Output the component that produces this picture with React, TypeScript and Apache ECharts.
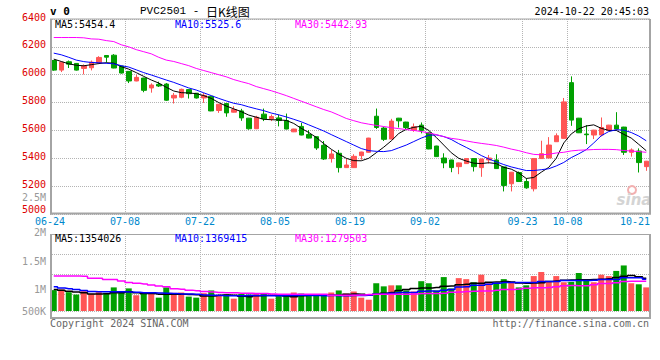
import React, { useEffect, useRef } from 'react';
import * as echarts from 'echarts';

// ---------- data ----------
const dates = [
  '06-24', '06-25', '06-26', '06-27', '06-28',
  '07-01', '07-02', '07-03', '07-04', '07-05', '07-08', '07-09', '07-10', '07-11', '07-12',
  '07-15', '07-16', '07-17', '07-18', '07-19', '07-22', '07-23', '07-24', '07-25', '07-26',
  '07-29', '07-30', '07-31',
  '08-01', '08-02', '08-05', '08-06', '08-07', '08-08', '08-09', '08-12', '08-13', '08-14',
  '08-15', '08-16', '08-19', '08-20', '08-21', '08-22', '08-23', '08-26', '08-27', '08-28',
  '08-29', '08-30',
  '09-02', '09-03', '09-04', '09-05', '09-06', '09-09', '09-10', '09-11', '09-12', '09-13',
  '09-18', '09-19', '09-20', '09-23', '09-24', '09-25', '09-26', '09-27', '09-30',
  '10-08', '10-09', '10-10', '10-11', '10-14', '10-15', '10-16', '10-17', '10-18', '10-21', '10-22',
];
const labeledDates = ['06-24', '07-08', '07-22', '08-05', '08-19', '09-02', '09-23', '10-08', '10-21'];
const gridDates = ['07-08', '07-22', '08-05', '08-19', '09-02', '09-23', '10-08'];

// [open, close, low, high]
const candles = [
  [6102, 6033, 6028, 6106], [6033, 6090, 6019, 6092], [6093, 6076, 6048, 6102], [6081, 6033, 6030, 6083],
  [6045, 6062, 6002, 6074], [6050, 6090, 6031, 6102], [6086, 6124, 6076, 6133], [6138, 6126, 6088, 6140],
  [6140, 6048, 6046, 6148], [6062, 6012, 6008, 6064], [6024, 5955, 5940, 6026], [5955, 5981, 5953, 6000],
  [5976, 5888, 5874, 5978], [5905, 5926, 5871, 5938], [5931, 5919, 5912, 5950], [5933, 5817, 5812, 5940],
  [5833, 5852, 5793, 5869], [5838, 5895, 5831, 5900], [5893, 5864, 5829, 5895], [5867, 5833, 5829, 5869],
  [5833, 5852, 5798, 5869], [5845, 5740, 5738, 5847], [5743, 5788, 5726, 5790], [5793, 5726, 5698, 5795],
  [5731, 5750, 5729, 5774], [5740, 5690, 5669, 5755], [5688, 5612, 5605, 5690], [5612, 5695, 5610, 5705],
  [5717, 5683, 5667, 5757], [5683, 5700, 5667, 5714], [5690, 5671, 5629, 5714], [5671, 5610, 5608, 5721],
  [5590, 5610, 5588, 5612], [5629, 5567, 5565, 5655], [5571, 5545, 5543, 5602], [5555, 5474, 5460, 5557],
  [5493, 5395, 5388, 5524], [5398, 5431, 5369, 5460], [5436, 5333, 5298, 5460], [5333, 5352, 5331, 5395],
  [5333, 5414, 5331, 5429], [5419, 5445, 5390, 5447], [5443, 5545, 5441, 5547], [5702, 5621, 5610, 5757],
  [5617, 5536, 5524, 5626], [5538, 5667, 5536, 5683], [5688, 5669, 5621, 5690], [5660, 5621, 5602, 5662],
  [5602, 5626, 5590, 5650], [5638, 5600, 5579, 5657], [5583, 5467, 5465, 5590], [5488, 5412, 5410, 5490],
  [5402, 5367, 5329, 5436], [5388, 5333, 5300, 5390], [5340, 5367, 5286, 5369], [5362, 5398, 5360, 5402],
  [5398, 5340, 5305, 5400], [5333, 5395, 5267, 5397], [5388, 5402, 5362, 5424], [5388, 5326, 5324, 5429],
  [5338, 5205, 5162, 5340], [5217, 5300, 5162, 5302], [5298, 5233, 5231, 5305], [5233, 5188, 5181, 5257],
  [5181, 5398, 5162, 5400], [5398, 5433, 5396, 5526], [5402, 5495, 5400, 5552], [5519, 5562, 5517, 5579],
  [5543, 5805, 5541, 5833], [5943, 5674, 5633, 5988], [5688, 5583, 5581, 5690], [5574, 5569, 5502, 5638],
  [5567, 5602, 5538, 5604], [5567, 5621, 5557, 5693], [5602, 5638, 5600, 5640], [5638, 5610, 5608, 5731],
  [5624, 5443, 5424, 5626], [5443, 5460, 5412, 5471], [5452, 5369, 5298, 5471], [5340, 5379, 5310, 5381],
];

const ma5 = [
  6112, 6095, 6078, 6068, 6064, 6072, 6080, 6086, 6083, 6058,
  6040, 6015, 5988, 5962, 5940, 5910, 5883, 5871, 5869, 5864,
  5850, 5830, 5800, 5775, 5755, 5735, 5710, 5695, 5680, 5677,
  5675, 5672, 5650, 5615, 5585, 5550, 5505, 5465, 5430, 5400,
  5383, 5382, 5400, 5440, 5480, 5525, 5578, 5608, 5622, 5630,
  5600, 5550, 5495, 5440, 5400, 5380, 5365, 5362, 5368, 5362,
  5335, 5322, 5295, 5255, 5262, 5300, 5335, 5400, 5510, 5575,
  5612, 5632, 5640, 5615, 5600, 5600, 5572, 5545, 5500, 5454.4,
];
const ma10 = [
  6155, 6143, 6125, 6105, 6094, 6088, 6086, 6082, 6078, 6065,
  6055, 6035, 6015, 5998, 5980, 5962, 5945, 5925, 5905, 5890,
  5870, 5850, 5830, 5812, 5795, 5785, 5769, 5755, 5742, 5725,
  5712, 5697, 5680, 5662, 5640, 5618, 5596, 5570, 5545, 5520,
  5495, 5470, 5455, 5450, 5448, 5455, 5475, 5495, 5520, 5545,
  5565, 5568, 5556, 5535, 5505, 5478, 5450, 5420, 5395, 5375,
  5355, 5338, 5325, 5312, 5312, 5318, 5325, 5345, 5370, 5405,
  5432, 5462, 5510, 5562, 5592, 5605, 5602, 5585, 5560, 5525.6,
];
const ma30 = [
  6267, 6267, 6267, 6267, 6265, 6257, 6255, 6245, 6238, 6215,
  6200, 6180, 6165, 6150, 6125, 6105, 6095, 6080, 6065, 6045,
  6030, 6015, 6000, 5985, 5965, 5950, 5936, 5915, 5900, 5885,
  5868, 5850, 5830, 5810, 5790, 5770, 5750, 5733, 5710, 5686,
  5670, 5655, 5645, 5636, 5628, 5620, 5613, 5606, 5600, 5592,
  5582, 5570, 5555, 5543, 5536, 5525, 5515, 5507, 5500, 5492,
  5480, 5466, 5455, 5440, 5428, 5425, 5429, 5438, 5443, 5453,
  5458, 5460, 5463, 5464, 5464, 5462, 5456, 5452, 5448, 5442.93,
];

const volume = [
  1105000, 1122000, 1054000, 995000, 1080000, 1012000, 1054000, 1037000, 1173000, 1071000,
  1148000, 978000, 1037000, 1012000, 918000, 1173000, 1037000, 1046000, 944000, 918000,
  1029000, 1097000, 969000, 1003000, 893000, 1012000, 995000, 1029000, 1012000, 893000,
  987000, 987000, 1046000, 1020000, 978000, 978000, 969000, 1046000, 1097000, 1020000,
  1071000, 918000, 867000, 1276000, 1199000, 1224000, 1224000, 1097000, 1071000, 1327000,
  1276000, 1097000, 1429000, 1148000, 1403000, 1378000, 1301000, 1488000, 1276000, 1276000,
  1378000, 1301000, 1173000, 1224000, 1454000, 1556000, 1327000, 1454000, 1301000, 1310000,
  1531000, 1378000, 1301000, 1488000, 1454000, 1582000, 1718000, 1276000, 1250000, 1173000,
];
const volMa5 = [
  1122000, 1100000, 1080000, 1060000, 1037000, 1012000, 1012000, 1015000, 1037000, 1040000,
  1063000, 1040000, 1020000, 1020000, 1003000, 1003000, 1000000, 1000000, 995000, 990000,
  961000, 961000, 975000, 987000, 975000, 952000, 940000, 965000, 969000, 978000,
  978000, 960000, 940000, 965000, 978000, 978000, 976000, 978000, 980000, 1000000,
  1012000, 1000000, 978000, 1003000, 1030000, 1046000, 1097000, 1120000, 1148000, 1156000,
  1158000, 1173000, 1200000, 1207000, 1240000, 1250000, 1276000, 1278000, 1301000, 1310000,
  1318000, 1310000, 1284000, 1276000, 1284000, 1290000, 1318000, 1330000, 1352000, 1354000,
  1361000, 1363000, 1370000, 1378000, 1390000, 1420000, 1450000, 1471000, 1437000, 1403000,
];
const volMa10 = [
  1190000, 1156000, 1140000, 1120000, 1097000, 1071000, 1065000, 1063000, 1062000, 1063000,
  1060000, 1050000, 1040000, 1037000, 1036000, 1030000, 1020000, 1012000, 1011000, 1000000,
  985000, 975000, 972000, 968000, 965000, 968000, 970000, 972000, 970000, 966000,
  968000, 970000, 972000, 975000, 972000, 970000, 968000, 969000, 966000, 968000,
  970000, 969000, 975000, 1003000, 1010000, 1029000, 1046000, 1047000, 1046000, 1080000,
  1081000, 1080000, 1100000, 1122000, 1182000, 1190000, 1224000, 1226000, 1250000, 1276000,
  1293000, 1294000, 1292000, 1293000, 1295000, 1318000, 1319000, 1318000, 1344000, 1345000,
  1344000, 1343000, 1350000, 1369000, 1370000, 1369000, 1412000, 1413000, 1412000, 1378000,
];
const volMa30 = [
  1454000, 1454000, 1454000, 1454000, 1452000, 1403000, 1403000, 1369000, 1369000, 1330000,
  1293000, 1275000, 1260000, 1235000, 1210000, 1190000, 1140000, 1125000, 1105000, 1090000,
  1071000, 1060000, 1046000, 1040000, 1037000, 1030000, 1025000, 1020000, 1019000, 1010000,
  1003000, 1004000, 1003000, 1002000, 1003000, 1004000, 1003000, 978000, 979000, 978000,
  977000, 985000, 995000, 1003000, 1004000, 1003000, 1002000, 1003000, 1010000, 1020000,
  1021000, 1020000, 1030000, 1054000, 1060000, 1070000, 1080000, 1081000, 1085000, 1100000,
  1122000, 1123000, 1130000, 1150000, 1165000, 1166000, 1170000, 1190000, 1216000, 1217000,
  1216000, 1215000, 1240000, 1267000, 1268000, 1290000, 1320000, 1327000, 1326000, 1327000,
];

const priceYTicks = { min: 5000, max: 6400, step: 200 };
// volume scale labels as drawn by the source (uneven spacing, blank slots between)
const volTickLabels = ['500K', '', '', '1M', '', '', '', '1.5M', '', '', '', '2M', '', '', '', '', '2.5M'];
const priceMaLabels = ['MA5:5454.4', 'MA10:5525.6', 'MA30:5442.93'];
const volMaLabels = ['MA5:1354026', 'MA10:1369415', 'MA30:1279503'];
const titleCode = 'PVC2501 - ';
const titleName = '日K线图';
const timeStamp = '2024-10-22 20:45:03';

// ---------- styles ----------
const UP = '#ff5555';
const DOWN = '#00a000';
const MA_COLORS = ['#000000', '#0000ff', '#ff00ff'];
const MONO = '"DejaVu Sans Mono", monospace';
const GRID_LINE = { color: '#b4b4b4', type: 'dotted' as const, width: 1 };
const FRAME = '#a4a4a4';
const PRICE_LABEL = '#dd0000';

function buildOption() {
  const volData = volume.map((v, i) => ({
    value: v,
    itemStyle: { color: candles[i][1] >= candles[i][0] ? UP : DOWN },
  }));

  const text = (t: string, x: number, y: number, fill: string, font: string, align = 'left') => ({
    type: 'text',
    x,
    y,
    style: { text: t, fill, font, textAlign: align, textVerticalAlign: 'middle' },
    z: 20,
  });
  const line = (x1: number, y1: number, x2: number, y2: number, w: number) => ({
    type: 'line',
    shape: { x1, y1, x2, y2 },
    style: { stroke: FRAME, lineWidth: w },
    z: 15,
  });

  const maX = [55, 175, 295];
  const volLabelStep = 7.1;

  return {
    animation: false,
    backgroundColor: '#ffffff',
    grid: [
      { left: 50, right: 10, top: 19, height: 195 },
      { left: 50, right: 10, top: 234, height: 77 },
      {
        left: 50,
        right: 10,
        top: 311 - volLabelStep * (volTickLabels.length - 1),
        height: volLabelStep * (volTickLabels.length - 1),
      },
    ],
    xAxis: [
      {
        type: 'category',
        gridIndex: 0,
        data: dates,
        boundaryGap: true,
        axisLine: { show: false },
        axisTick: { show: false },
        axisLabel: {
          interval: (_i: number, v: string) => labeledDates.includes(v),
          color: '#0088cc',
          fontFamily: MONO,
          fontSize: 10,
          margin: 2,
          padding: [0, 7.5, 0, 0],
        },
        splitLine: {
          show: true,
          interval: (_i: number, v: string) => gridDates.includes(v),
          lineStyle: GRID_LINE,
        },
      },
      {
        type: 'category',
        gridIndex: 1,
        data: dates,
        boundaryGap: true,
        axisLine: { show: false },
        axisTick: { show: false },
        axisLabel: { show: false },
        splitLine: {
          show: true,
          interval: (_i: number, v: string) => gridDates.includes(v),
          lineStyle: GRID_LINE,
        },
      },
      { type: 'value', gridIndex: 2, show: false },
    ],
    yAxis: [
      {
        type: 'value',
        gridIndex: 0,
        min: priceYTicks.min,
        max: priceYTicks.max,
        interval: priceYTicks.step,
        axisLine: { show: false },
        axisTick: { show: false },
        axisLabel: {
          formatter: (v: number) => (v === priceYTicks.min ? `{low|${v}}` : String(v)),
          color: PRICE_LABEL,
          fontFamily: MONO,
          fontSize: 10,
          margin: 4,
          padding: [0, 0, 4, 0],
          rich: {
            low: { color: PRICE_LABEL, fontFamily: MONO, fontSize: 10, padding: [0, 0, 6, 0] },
          },
        },
        splitLine: { show: true, lineStyle: GRID_LINE },
      },
      {
        type: 'value',
        gridIndex: 1,
        min: 586700,
        max: 2499000,
        splitNumber: 4,
        axisLine: { show: false },
        axisTick: { show: false },
        axisLabel: { show: false },
        splitLine: { show: true, lineStyle: GRID_LINE },
      },
      {
        type: 'category',
        gridIndex: 2,
        data: volTickLabels,
        boundaryGap: false,
        axisLine: { show: false },
        axisTick: { show: false },
        splitLine: { show: false },
        axisLabel: { interval: 0, color: '#999999', fontFamily: MONO, fontSize: 10, margin: 4 },
      },
    ],
    series: [
      {
        type: 'candlestick',
        xAxisIndex: 0,
        yAxisIndex: 0,
        data: candles,
        barWidth: 5,
        itemStyle: { color: UP, color0: DOWN, borderColor: UP, borderColor0: DOWN, borderWidth: 1 },
        z: 2,
      },
      ...[ma5, ma10, ma30].map((d, k) => ({
        type: 'line',
        xAxisIndex: 0,
        yAxisIndex: 0,
        data: d,
        symbol: 'none',
        showSymbol: false,
        lineStyle: { color: MA_COLORS[k], width: 1 },
        z: 3,
      })),
      {
        type: 'bar',
        xAxisIndex: 1,
        yAxisIndex: 1,
        data: volData,
        barWidth: 6,
        z: 2,
      },
      ...[volMa5, volMa10, volMa30].map((d, k) => ({
        type: 'line',
        xAxisIndex: 1,
        yAxisIndex: 1,
        data: d,
        step: 'middle',
        symbol: 'none',
        showSymbol: false,
        lineStyle: { color: MA_COLORS[k], width: 1.5 },
        z: 3,
      })),
    ],
    graphic: [
      // panel frames
      line(50, 19, 650, 19, 1),
      line(51, 19, 51, 214.5, 2),
      line(50, 213.5, 651, 213.5, 2),
      line(650, 19, 650, 214.5, 2),
      line(50, 234.5, 650, 234.5, 1),
      line(51, 234, 51, 319, 2),
      line(50, 318, 651, 318, 2),
      line(650, 234, 650, 319, 2),
      // header
      text('v 0', 50, 11, '#000000', `bold 11px ${MONO}`),
      text(titleCode, 140, 11, '#000000', '11px "Liberation Mono", monospace'),
      text(titleName, 206, 11, '#000000', '12px "Noto Sans CJK SC"'),
      text(timeStamp, 649, 11, '#000000', `10px ${MONO}`, 'right'),
      // MA legends
      ...priceMaLabels.map((t, k) => text(t, maX[k], 24, MA_COLORS[k], `10px ${MONO}`)),
      ...volMaLabels.map((t, k) => text(t, maX[k], 238.5, MA_COLORS[k], `10px ${MONO}`)),
      // footer
      text('Copyright 2024 SINA.COM', 50, 323, '#666666', `10px ${MONO}`),
      text('http://finance.sina.com.cn', 649, 323, '#666666', `10px ${MONO}`, 'right'),
      // watermark
      {
        type: 'circle',
        shape: { cx: 632, cy: 190, r: 4 },
        style: { fill: 'none', stroke: '#f2b0b0', lineWidth: 2 },
        z: 1,
      },
      {
        type: 'text',
        x: 634,
        y: 200,
        style: {
          text: 'sina',
          fill: '#d4d4d4',
          font: 'italic bold 15px "DejaVu Sans"',
          textAlign: 'center',
          textVerticalAlign: 'middle',
        },
        z: 1,
      },
    ],
  };
}

export default function App() {
  const ref = useRef<HTMLDivElement>(null);
  useEffect(() => {
    if (!ref.current) return;
    const chart = echarts.init(ref.current, null, { renderer: 'svg' });
    chart.setOption(buildOption() as any);
    return () => chart.dispose();
  }, []);
  return (
    <div
      ref={ref}
      style={{ position: 'fixed', left: 0, top: 0, width: 660, height: 360, background: '#ffffff' }}
    />
  );
}
